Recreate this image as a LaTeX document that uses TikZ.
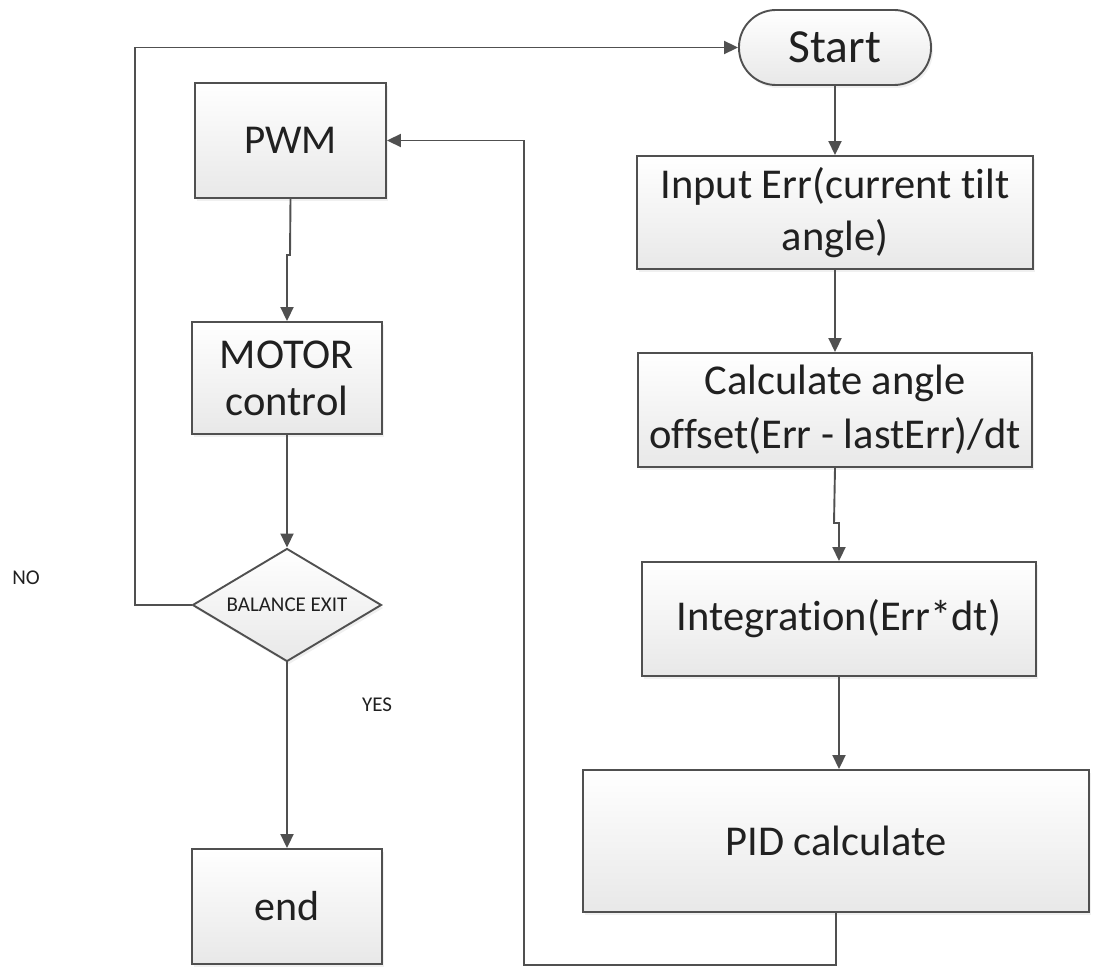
\documentclass[tikz,border=0pt]{standalone}
\usepackage{fontspec}
\setmainfont{Carlito}[Ligatures=NoCommon]
\usetikzlibrary{shapes.geometric,arrows.meta,shadows}
\definecolor{linecol}{HTML}{505050}
\definecolor{txtcol}{HTML}{202020}
\begin{document}
\begin{tikzpicture}[x=1pt,y=-1pt,
  box/.style={draw=linecol, line width=1.9pt, top color=white, bottom color=black!9,
    text=txtcol, align=center, inner sep=0pt,
    font=\fontsize{42.5}{52}\selectfont,
    drop shadow={opacity=0.12, shadow xshift=2pt, shadow yshift=-3pt}},
  decision/.style={diamond, aspect=1.67, draw=linecol, line width=1.9pt, top color=white, bottom color=black!9,
    text=txtcol, inner sep=0pt, font=\fontsize{21}{24}\selectfont,
    drop shadow={opacity=0.12, shadow xshift=2pt, shadow yshift=-3pt}},
  arr/.style={draw=linecol, line width=1.9pt, -{Triangle[length=14pt,width=13pt]}},
  lbl/.style={text=txtcol, font=\fontsize{21}{24}\selectfont, inner sep=0pt}
]
\path[use as bounding box] (0,0) rectangle (1100,968);

\node[box, rounded corners=37pt, minimum width=192pt, minimum height=75pt,
  font=\fontsize{47.5}{54}\selectfont] (start) at (835,47.5) {Start};
\node[box, minimum width=396pt, minimum height=113pt] (input) at (835,212.5)
  {Input Err(current tilt\\angle)};
\node[box, minimum width=394pt, minimum height=114pt,
  font=\fontsize{42.5}{54}\selectfont] (calc) at (835,410)
  {Calculate angle\\offset(Err - lastErr)/dt};
\node[box, minimum width=394pt, minimum height=114pt] (integ) at (839,619)
  {Integration(Err*dt)};
\node[box, minimum width=506pt, minimum height=142pt] (pid) at (836,841) {PID calculate};

\node[box, minimum width=191pt, minimum height=115pt,
  font=\fontsize{41}{50}\selectfont] (pwm) at (290.5,140.5) {PWM};
\node[box, minimum width=190pt, minimum height=112pt,
  font=\fontsize{42.5}{47}\selectfont] (motor) at (287,378) {MOTOR\\control};
\node[decision, minimum width=189pt, minimum height=113pt] (dec) at (287,605) {BALANCE EXIT};
\node[box, minimum width=190pt, minimum height=115pt,
  font=\fontsize{42}{50}\selectfont] (end) at (287,906.5) {end};

\node[lbl] (no) at (26,578) {NO};
\node[lbl] (yes) at (377,705) {YES};

\coordinate (cj) at (834,523);
\coordinate (pj) at (290,255);
\coordinate (lc) at (135,0);
\coordinate (rb) at (524,965);

\draw[arr] (start) -- (input);
\draw[arr] (input) -- (calc);
\draw[arr] (calc.south) -- (cj) -| (integ.north);
\draw[arr] (integ.south) -- (integ.south |- pid.north);
\draw[arr] (pid.south) |- (rb) |- (pwm.east);
\draw[arr] (pwm.south) -- (pj) -| (motor.north);
\draw[arr] (motor) -- (dec);
\draw[arr] (dec) -- (end);
\draw[arr] (dec.west) -- (dec.west -| lc) |- (start.west);
\end{tikzpicture}
\end{document}
